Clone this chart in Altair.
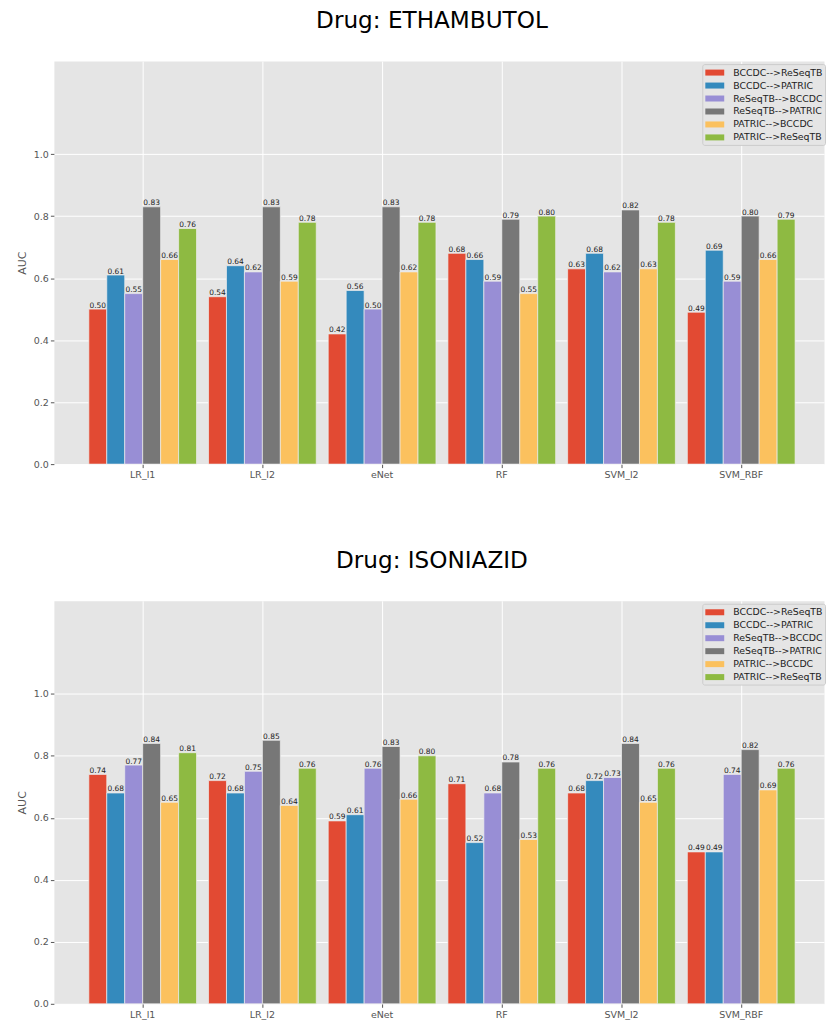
import altair as alt
import pandas as pd

models = ["LR_l1", "LR_l2", "eNet", "RF", "SVM_l2", "SVM_RBF"]
series = ["BCCDC-->ReSeqTB", "BCCDC-->PATRIC", "ReSeqTB-->BCCDC",
          "ReSeqTB-->PATRIC", "PATRIC-->BCCDC", "PATRIC-->ReSeqTB"]
colors = ["#E24A33", "#348ABD", "#988ED5", "#777777", "#FBC15E", "#8EBA42"]

# ETHAMBUTOL, one list per transfer direction, values per model
eth_bccdc_reseqtb = [0.50, 0.54, 0.42, 0.68, 0.63, 0.49]
eth_bccdc_patric = [0.61, 0.64, 0.56, 0.66, 0.68, 0.69]
eth_reseqtb_bccdc = [0.55, 0.62, 0.50, 0.59, 0.62, 0.59]
eth_reseqtb_patric = [0.83, 0.83, 0.83, 0.79, 0.82, 0.80]
eth_patric_bccdc = [0.66, 0.59, 0.62, 0.55, 0.63, 0.66]
eth_patric_reseqtb = [0.76, 0.78, 0.78, 0.80, 0.78, 0.79]

# ISONIAZID
inh_bccdc_reseqtb = [0.74, 0.72, 0.59, 0.71, 0.68, 0.49]
inh_bccdc_patric = [0.68, 0.68, 0.61, 0.52, 0.72, 0.49]
inh_reseqtb_bccdc = [0.77, 0.75, 0.76, 0.68, 0.73, 0.74]
inh_reseqtb_patric = [0.84, 0.85, 0.83, 0.78, 0.84, 0.82]
inh_patric_bccdc = [0.65, 0.64, 0.66, 0.53, 0.65, 0.69]
inh_patric_reseqtb = [0.81, 0.76, 0.80, 0.76, 0.76, 0.76]

y_ticks = [0.0, 0.2, 0.4, 0.6, 0.8, 1.0]

FONT = "DejaVu Sans"


def make_df(lists):
    rows = []
    for s, vals in zip(series, lists):
        for m, v in zip(models, vals):
            rows.append({"model": m, "series": s, "auc": v})
    return pd.DataFrame(rows)


eth_df = make_df([eth_bccdc_reseqtb, eth_bccdc_patric, eth_reseqtb_bccdc,
                  eth_reseqtb_patric, eth_patric_bccdc, eth_patric_reseqtb])
inh_df = make_df([inh_bccdc_reseqtb, inh_bccdc_patric, inh_reseqtb_bccdc,
                  inh_reseqtb_patric, inh_patric_bccdc, inh_patric_reseqtb])


def panel(title, df):
    x = alt.X("model:N", sort=models,
              scale=alt.Scale(paddingInner=0.1, paddingOuter=0.2667, align=0.547),
              axis=alt.Axis(title=None, labelAngle=0, labelFontSize=9.5,
                            labelColor="#555555", labelFont=FONT,
                            tickColor="#555555", tickSize=3.5, tickWidth=1,
                            labelPadding=2, domain=False, grid=True,
                            gridColor="white", gridWidth=1, bandPosition=0.5))
    xo = alt.XOffset("series:N", sort=series,
                     scale=alt.Scale(domain=series, paddingInner=0, paddingOuter=0))
    y = alt.Y("auc:Q", scale=alt.Scale(domain=[0, 1.3], nice=False, zero=True),
              axis=alt.Axis(title="AUC", values=y_ticks, format=".1f",
                            labelFontSize=9.5, labelColor="#555555", labelFont=FONT,
                            tickColor="#555555", tickSize=3.5, tickWidth=1,
                            labelPadding=2, domain=False, grid=True,
                            gridColor="white", gridWidth=1,
                            titleFontSize=11, titleFont=FONT,
                            titleFontWeight="normal", titleColor="#555555",
                            titlePadding=6))
    color = alt.Color("series:N",
                      scale=alt.Scale(domain=series, range=colors),
                      legend=alt.Legend(title=None, orient="none",
                                        legendX=650, legendY=3,
                                        fillColor="#e5e5e5", strokeColor="#cccccc",
                                        padding=2.5, cornerRadius=2,
                                        symbolType="M-1.58,-0.5L1.58,-0.5L1.58,0.5L-1.58,0.5Z",
                                        symbolSize=144, symbolStrokeWidth=0,
                                        symbolOpacity=1, symbolOffset=4,
                                        labelFontSize=9.4, labelFont=FONT,
                                        labelColor="#222222", rowPadding=2,
                                        labelOffset=12.5))
    base = alt.Chart(df)
    bars = base.mark_bar(stroke="#eeeeee", strokeWidth=0.7, opacity=1).encode(
        x=x, xOffset=xo, y=y, color=color)
    labels = base.mark_text(fontSize=7.5, font=FONT, baseline="alphabetic",
                            dy=-1.5, color="#222222").encode(
        x=x, xOffset=xo, y=y, text=alt.Text("auc:Q", format=".2f"))
    return alt.layer(bars, labels).properties(
        width=772, height=404,
        title=alt.TitleParams(text=title, fontSize=23.2, font=FONT,
                              fontWeight="normal", color="black",
                              anchor="middle", baseline="top",
                              offset=28, dx=-7))


chart = alt.vconcat(
    panel("Drug: ETHAMBUTOL", eth_df),
    panel("Drug: ISONIAZID", inh_df),
    spacing=68,
).resolve_scale(color="independent").properties(
    padding={"left": 7, "top": -1, "right": 0, "bottom": 0},
    background="white"
).configure_view(fill="#E5E5E5", stroke="transparent")

chart.save("out.html", embed_options={"renderer": "svg", "actions": False})
